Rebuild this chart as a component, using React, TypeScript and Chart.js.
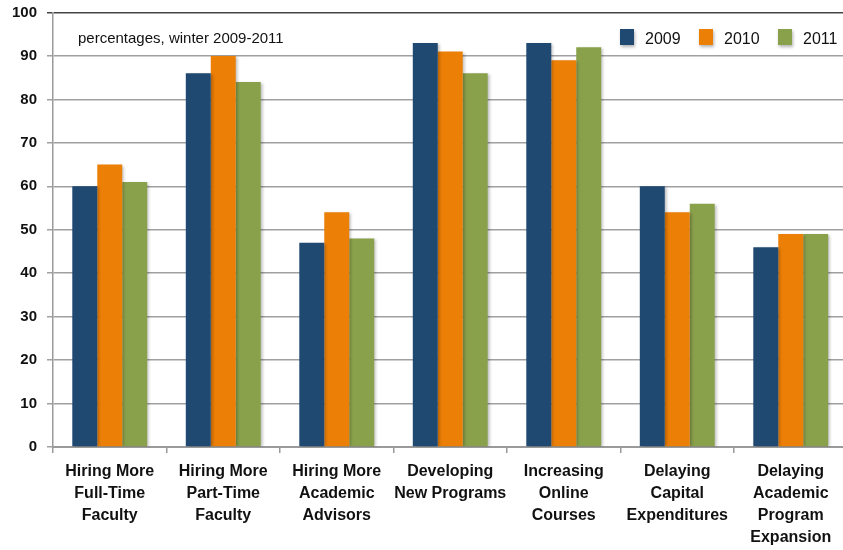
import React, { useEffect, useRef } from "react";
import { Chart, registerables } from "chart.js";

Chart.register(...registerables);

const categories: string[][] = [
  ["Hiring More", "Full-Time", "Faculty"],
  ["Hiring More", "Part-Time", "Faculty"],
  ["Hiring More", "Academic", "Advisors"],
  ["Developing", "New Programs"],
  ["Increasing", "Online", "Courses"],
  ["Delaying", "Capital", "Expenditures"],
  ["Delaying", "Academic", "Program", "Expansion"],
];
const seriesNames = ["2009", "2010", "2011"];
const values2009 = [60, 86, 47, 93, 93, 60, 46];
const values2010 = [65, 90, 54, 91, 89, 54, 49];
const values2011 = [61, 84, 48, 86, 92, 56, 49];
const colors = ["#1F4971", "#EC7F06", "#8AA14B"];
const subtitle = "percentages, winter 2009-2011";

const shadowPlugin = {
  id: "barShadow",
  beforeDatasetsDraw(chart: any) {
    const ctx = chart.ctx;
    ctx.save();
    ctx.shadowColor = "rgba(0,0,0,0.28)";
    ctx.shadowBlur = 3;
    ctx.shadowOffsetX = 2;
    ctx.shadowOffsetY = 1;
  },
  afterDatasetsDraw(chart: any) {
    chart.ctx.restore();
  },
};

const overlayPlugin = {
  id: "overlay",
  afterDraw(chart: any) {
    const ctx = chart.ctx;
    const area = chart.chartArea;
    ctx.save();
    ctx.font = "15px 'Liberation Sans', Arial, sans-serif";
    ctx.fillStyle = "#111";
    ctx.textBaseline = "alphabetic";
    ctx.textAlign = "left";
    ctx.fillText(subtitle, area.left + 25, 43);
    ctx.font = "16px 'Liberation Sans', Arial, sans-serif";
    const startX = 620;
    chart.data.datasets.forEach((ds: any, i: number) => {
      const x = startX + i * 79;
      ctx.save();
      ctx.shadowColor = "rgba(0,0,0,0.3)";
      ctx.shadowBlur = 3;
      ctx.shadowOffsetX = 1;
      ctx.shadowOffsetY = 2;
      ctx.fillStyle = ds.backgroundColor;
      ctx.fillRect(x, 29, 14, 16);
      ctx.restore();
      ctx.fillStyle = "#111";
      ctx.fillText(ds.label, x + 25, 44);
    });
    ctx.restore();
  },
};

export default function App() {
  const ref = useRef<HTMLCanvasElement | null>(null);
  useEffect(() => {
    if (!ref.current) return;
    const chart = new Chart(ref.current, {
      type: "bar",
      data: {
        labels: categories,
        datasets: [values2009, values2010, values2011].map((vals, i) => ({
          label: seriesNames[i],
          data: vals,
          backgroundColor: colors[i],
          borderWidth: 0,
          barPercentage: 1,
          categoryPercentage: 0.66,
        })),
      },
      options: {
        responsive: false,
        animation: false,
        devicePixelRatio: 1,
        layout: { padding: { top: 12.5, right: 12.5, left: 0, bottom: 0 } },
        plugins: {
          legend: { display: false },
          tooltip: { enabled: false },
        },
        scales: {
          x: {
            grid: {
              display: true,
              drawOnChartArea: false,
              drawTicks: true,
              tickLength: 6,
              color: "#9a9a9a",
              lineWidth: 1.5,
              offset: true,
            },
            border: { display: true, color: "#9a9a9a", width: 2 },
            ticks: {
              autoSkip: false,
              maxRotation: 0,
              minRotation: 0,
              padding: 8,
              color: "#111",
              font: {
                family: "'Liberation Sans', Arial, sans-serif",
                size: 16,
                weight: "bold",
                lineHeight: 1.375,
              },
            },
            afterFit(scale: any) {
              scale.height = 103;
              scale.paddingLeft = 0;
              scale.paddingRight = 0;
            },
          },
          y: {
            min: 0,
            max: 100,
            ticks: {
              stepSize: 10,
              padding: 10,
              color: "#111",
              font: {
                family: "'Liberation Sans', Arial, sans-serif",
                size: 15,
                weight: "bold",
              },
            },
            grid: {
              color: (c: any) => (c.tick && c.tick.value === 100 ? "#444" : "#a0a0a0"),
              lineWidth: 1.5,
              tickLength: 6,
            },
            border: { display: true, color: "#9a9a9a", width: 1.5 },
            afterFit(scale: any) {
              scale.width = 53;
              scale.paddingTop = 0;
              scale.paddingBottom = 0;
            },
          },
        },
      },
      plugins: [shadowPlugin, overlayPlugin],
    } as any);
    return () => chart.destroy();
  }, []);
  return (
    <div
      style={{
        position: "fixed",
        left: 0,
        top: 0,
        width: 843,
        height: 550,
        overflow: "hidden",
        background: "#fff",
      }}
    >
      <canvas ref={ref} width={860} height={550} style={{ width: 860, height: 550, display: "block" }} />
    </div>
  );
}
